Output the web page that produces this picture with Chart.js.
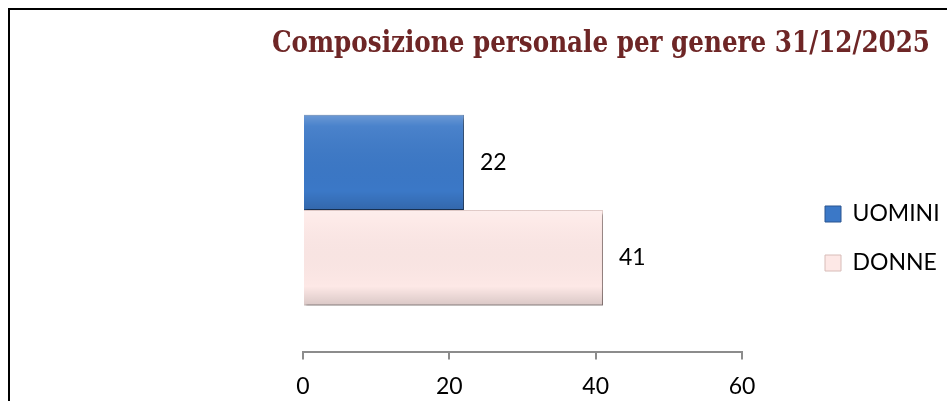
<!DOCTYPE html>
<html>
<head>
<meta charset="utf-8">
<script src="https://cdn.jsdelivr.net/npm/chart.js@4"></script>
<style>
  html, body { margin: 0; padding: 0; background: #fff; overflow: hidden; }
  #wrap { position: relative; width: 947px; height: 401px; }
  #frame { position: absolute; left: 8px; top: 8px; width: 1000px; height: 500px;
           border-top: 2px solid #000; border-left: 2px solid #000; }
  #chart { position: absolute; left: 0; top: 0; }
</style>
</head>
<body>
<div id="wrap">
  <div id="frame"></div>
  <canvas id="chart" width="947" height="401"></canvas>
</div>
<script>
  const title = "Composizione personale per genere 31/12/2025";
  const categories = ["Personale"];
  const uomini = [22];
  const donne = [41];
  const ticks = [0, 20, 40, 60];

  const FONT = "Lato";

  // soft drop shadow under the bars
  const barShadow = {
    id: "barShadow",
    beforeDatasetDraw(chart) {
      const c = chart.ctx;
      c.shadowColor = "rgba(0,0,0,0.35)";
      c.shadowBlur = 2;
      c.shadowOffsetX = 2;
      c.shadowOffsetY = 3;
    },
    afterDatasetDraw(chart) {
      const c = chart.ctx;
      c.shadowColor = "rgba(0,0,0,0)";
      c.shadowBlur = 0;
      c.shadowOffsetX = 0;
      c.shadowOffsetY = 0;
    }
  };

  // shading + value labels at the end of each bar
  const barLabels = {
    id: "barLabels",
    afterDatasetsDraw(chart) {
      const c = chart.ctx;
      c.save();
      chart.data.datasets.forEach((ds, i) => {
        chart.getDatasetMeta(i).data.forEach((bar, j) => {
          const h = bar.height, top = bar.y - h / 2;
          const g = c.createLinearGradient(0, top, 0, top + h);
          g.addColorStop(0, "rgba(255,255,255,0.25)");
          g.addColorStop(0.12, "rgba(255,255,255,0.08)");
          g.addColorStop(0.8, "rgba(0,0,0,0.0)");
          g.addColorStop(1, "rgba(0,0,0,0.14)");
          c.fillStyle = g;
          c.fillRect(bar.base, top, bar.x - bar.base, h);

          c.fillStyle = "#000";
          c.font = "23px " + FONT;
          c.textAlign = "left";
          c.textBaseline = "middle";
          c.fillText(ds.data[j], bar.x + 16, bar.y);
        });
      });
      c.restore();
    }
  };

  // fixed legend width, then nudge it next to the plot like the original
  const legendPlace = {
    id: "legendPlace",
    beforeLayout(chart) {
      const lg = chart.legend;
      if (lg && !lg._patched) {
        const fit = lg.fit.bind(lg);
        lg.fit = function () { fit(); this.width = 188; };
        lg._patched = true;
      }
    },
    afterLayout(chart) {
      const lg = chart.legend;
      lg.left += 57; lg.right += 57;
      lg.top += 32; lg.bottom += 32;
    }
  };

  new Chart(document.getElementById("chart").getContext("2d"), {
    type: "bar",
    data: {
      labels: categories,
      datasets: [
        { label: "UOMINI", data: uomini, backgroundColor: "#3b78c7", borderColor: "#2a5590", borderWidth: 1 },
        { label: "DONNE", data: donne, backgroundColor: "#fde8e6", borderColor: "#d8bcb8", borderWidth: 1 }
      ]
    },
    options: {
      indexAxis: "y",
      responsive: false,
      animation: false,
      events: [],
      // title box is 272..930 wide, so the serif title gets squeezed to that width
      layout: { padding: { left: 272, right: 17, top: 0, bottom: -12 } },
      datasets: { bar: { categoryPercentage: 0.67, barPercentage: 1 } },
      scales: {
        y: {
          display: true,
          grid: { display: false },
          border: { display: false },
          ticks: { display: false },
          afterFit: s => { s.width = 31; }
        },
        x: {
          min: 0, max: 60,
          afterBuildTicks: s => { s.ticks = ticks.map(v => ({ value: v })); },
          border: { display: true, color: "#8c8c8c", width: 2 },
          grid: { drawOnChartArea: false, drawTicks: true, tickLength: 7, color: "#8c8c8c", lineWidth: 2 },
          ticks: { color: "#000", padding: 13, font: { family: FONT, size: 23 } }
        }
      },
      plugins: {
        title: {
          display: true, text: title, align: "end",
          color: "#6e2626",
          font: { family: "DejaVu Serif", size: 29, weight: "bold", lineHeight: 1.2 },
          padding: { top: 27, bottom: 6 }
        },
        legend: {
          position: "right",
          labels: {
            color: "#000",
            boxWidth: 16, boxHeight: 16, padding: 26,
            font: { family: FONT, size: 23 }
          }
        },
        tooltip: { enabled: false }
      }
    },
    plugins: [barShadow, barLabels, legendPlace]
  });
</script>
</body>
</html>
